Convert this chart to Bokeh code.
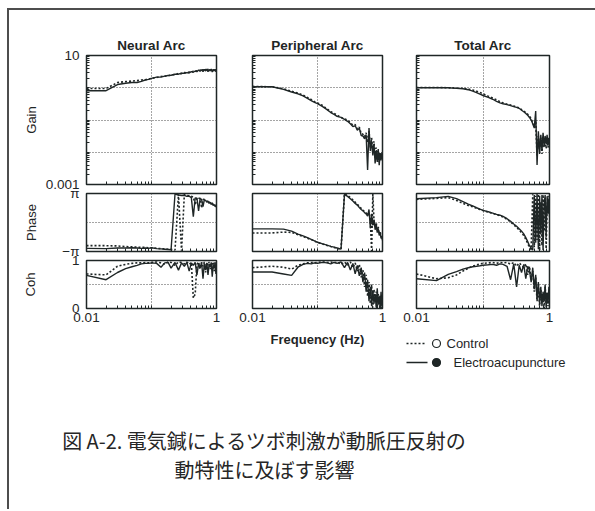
import math

from bokeh.core.properties import value
from bokeh.embed import file_html
from bokeh.layouts import column, row
from bokeh.models import FixedTicker, Range1d
from bokeh.plotting import figure
from bokeh.resources import INLINE

PI = math.pi

# Frequency grid shared by every spectrum (Hz)
FREQ = [0.01, 0.02, 0.03, 0.04, 0.05, 0.06, 0.07, 0.08, 0.09, 0.10,
        0.12, 0.14, 0.16, 0.18, 0.20, 0.23, 0.26, 0.29, 0.32, 0.35,
        0.38, 0.41, 0.44, 0.47, 0.50, 0.53, 0.56, 0.59, 0.62, 0.65,
        0.68, 0.71, 0.74, 0.77, 0.80, 0.83, 0.86, 0.89, 0.92, 0.95,
        0.98, 1.00]

ARC_TITLES = ["Neural Arc", "Peripheral Arc", "Total Arc"]

# ---- Gain -------------------------------------------------------------
NEURAL_GAIN_CTRL = [0.95, 0.95, 1.45, 1.55, 1.62, 1.66, 1.74, 1.78, 1.86, 1.95,
                    2.09, 2.24, 2.29, 2.34, 2.51, 2.57, 2.75, 2.75, 2.95, 2.88,
                    3.09, 3.02, 3.24, 3.16, 3.39, 3.24, 3.55, 3.31, 3.63, 3.39,
                    3.72, 3.24, 3.80, 3.31, 3.72, 3.24, 3.80, 3.39, 3.72, 3.31,
                    3.63, 3.55]
NEURAL_GAIN_EA = [0.81, 0.81, 1.26, 1.38, 1.45, 1.45, 1.58, 1.74, 1.82, 1.95,
                  2.14, 2.14, 2.29, 2.40, 2.45, 2.63, 2.63, 2.82, 2.82, 2.95,
                  2.88, 3.16, 3.02, 3.31, 3.16, 3.55, 3.24, 3.63, 3.16, 3.72,
                  3.31, 3.80, 3.16, 3.63, 3.31, 3.80, 3.09, 3.63, 3.31, 3.72,
                  3.16, 3.47]
PERIPH_GAIN_CTRL = [1.10, 1.07, 0.93, 0.78, 0.68, 0.59, 0.50, 0.43, 0.37, 0.34,
                    0.28, 0.22, 0.18, 0.16, 0.14, 0.12, 0.11, 0.098, 0.083, 0.069,
                    0.072, 0.052, 0.060, 0.038, 0.036, 0.030, 0.040, 0.020, 0.045, 0.014,
                    0.028, 0.010, 0.022, 0.0065, 0.014, 0.0060, 0.011, 0.0050, 0.010, 0.0063,
                    0.0089, 0.0071]
PERIPH_GAIN_EA = [1.07, 1.07, 0.89, 0.74, 0.65, 0.56, 0.47, 0.40, 0.35, 0.32,
                  0.26, 0.21, 0.17, 0.15, 0.13, 0.12, 0.105, 0.091, 0.076, 0.063,
                  0.066, 0.048, 0.056, 0.033, 0.032, 0.026, 0.035, 0.0028, 0.056, 0.011,
                  0.022, 0.0079, 0.018, 0.0045, 0.011, 0.0050, 0.0126, 0.0040, 0.0089, 0.0056,
                  0.010, 0.0063]
TOTAL_GAIN_CTRL = [1.02, 1.02, 1.00, 0.98, 0.96, 0.91, 0.85, 0.78, 0.71, 0.65,
                   0.55, 0.48, 0.42, 0.37, 0.34, 0.31, 0.29, 0.27, 0.25, 0.24,
                   0.21, 0.19, 0.17, 0.15, 0.13, 0.11, 0.085, 0.062, 0.10, 0.0079,
                   0.032, 0.013, 0.028, 0.0089, 0.032, 0.014, 0.025, 0.013, 0.028, 0.014,
                   0.022, 0.019]
TOTAL_GAIN_EA = [1.00, 1.00, 1.00, 0.955, 0.93, 0.87, 0.79, 0.71, 0.63, 0.575,
                 0.50, 0.44, 0.38, 0.34, 0.32, 0.30, 0.28, 0.26, 0.245, 0.23,
                 0.20, 0.18, 0.16, 0.14, 0.12, 0.10, 0.076, 0.056, 0.19, 0.0040,
                 0.045, 0.0089, 0.035, 0.011, 0.040, 0.016, 0.032, 0.018, 0.035, 0.016,
                 0.028, 0.022]

# ---- Phase (radians, wrapped to -pi..pi) ----------------------------------
NEURAL_PHASE_CTRL = [-2.51, -2.51, -2.54, -2.61, -2.64, -2.67, -2.70, -2.70, -2.73, -2.73,
                     -2.80, -2.83, -2.86, -2.89, -2.92, -2.98, 3.05, -3.05, 3.02, 2.92,
                     2.89, 2.83, 2.76, 1.88, 2.70, 2.64, 2.61, 1.57, 2.51, 2.48,
                     2.42, 2.26, 2.36, 2.14, 2.26, 2.01, 2.17, 1.88, 2.01, 1.82,
                     1.88, 1.73]
NEURAL_PHASE_EA = [-2.80, -2.83, -2.76, -2.76, -2.73, -2.76, -2.80, -2.76, -2.80, -2.73,
                   -2.83, -2.86, -2.89, -2.92, -2.95, 3.08, 2.98, 2.92, 2.95, 2.83,
                   2.86, 2.70, 0.63, 2.67, 2.64, 1.26, 2.58, 2.51, 1.73, 2.45,
                   2.39, 2.20, 2.32, 2.07, 2.20, 1.95, 2.14, 1.88, 1.95, 1.73,
                   1.82, 1.63]
PERIPH_PHASE_CTRL = [-1.13, -1.13, -1.04, -1.07, -1.32, -1.51, -1.70, -1.85, -2.01, -2.17,
                     -2.32, -2.48, -2.61, -2.70, -2.80, -2.92, 3.11, 2.92, 2.70, 2.45,
                     2.20, 1.98, 1.76, 1.54, 1.35, 1.16, 1.04, 0.79, 1.10, 0.31,
                     -3.08, 3.08, 0.16, -0.47, 0.00, -0.94, -0.47, -1.26, -0.94, -1.57,
                     -1.41, -1.82]
PERIPH_PHASE_EA = [-0.69, -0.69, -0.72, -0.94, -1.26, -1.45, -1.63, -1.82, -1.98, -2.14,
                   -2.32, -2.45, -2.58, -2.67, -2.76, -2.89, 3.05, 2.83, 2.58, 2.32,
                   2.07, 1.88, 1.63, 1.41, 1.26, 1.07, 0.94, 0.69, 1.41, -0.63,
                   0.94, -0.31, 0.31, -0.79, -0.16, -1.10, -0.63, -1.41, -1.10, -1.73,
                   -1.57, -1.95]
TOTAL_PHASE_CTRL = [2.51, 2.61, 2.70, 2.39, 2.07, 1.85, 1.70, 1.54, 1.41, 1.29,
                    1.13, 0.97, 0.85, 0.72, 0.60, 0.35, 0.06, -0.25, -0.53, -0.82,
                    -1.10, -1.41, -1.82, -2.26, -2.70, -2.92, 3.05, -2.67, 2.89, -1.88,
                    3.08, -3.05, 2.20, -2.51, 3.02, -0.94, 2.67, -2.83, 1.57, 2.89,
                    1.26, 2.36]
TOTAL_PHASE_EA = [2.58, 2.70, 2.83, 2.58, 2.26, 1.98, 1.79, 1.60, 1.45, 1.32,
                  1.16, 1.01, 0.88, 0.79, 0.66, 0.41, 0.13, -0.16, -0.41, -0.69,
                  -0.94, -1.23, -1.63, -2.07, -2.51, -2.76, -2.98, 2.98, -2.20, 3.08,
                  -2.89, 2.89, -1.26, 2.98, -2.98, 1.88, 2.98, -1.57, 2.83, 0.94,
                  2.51, 0.63]

# ---- Coherence --------------------------------------------------------------
NEURAL_COH_CTRL = [0.72, 0.70, 0.88, 0.92, 0.94, 0.95, 0.95, 0.96, 0.95, 0.96,
                   0.97, 0.95, 0.92, 0.97, 0.96, 0.90, 0.97, 0.96, 0.93, 0.97,
                   0.92, 0.96, 0.22, 0.30, 0.92, 0.97, 0.82, 0.96, 0.88, 0.97,
                   0.75, 0.96, 0.90, 0.97, 0.82, 0.95, 0.92, 0.97, 0.78, 0.96,
                   0.90, 0.95]
NEURAL_COH_EA = [0.69, 0.60, 0.75, 0.83, 0.87, 0.90, 0.93, 0.94, 0.94, 0.95,
                 0.94, 0.86, 0.95, 0.96, 0.84, 0.96, 0.80, 0.95, 0.88, 0.96,
                 0.78, 0.95, 0.90, 0.96, 0.70, 0.93, 0.85, 0.96, 0.62, 0.94,
                 0.80, 0.95, 0.70, 0.93, 0.86, 0.96, 0.66, 0.92, 0.84, 0.95,
                 0.72, 0.90]
PERIPH_COH_CTRL = [0.85, 0.88, 0.86, 0.82, 0.90, 0.93, 0.95, 0.96, 0.95, 0.96,
                   0.97, 0.96, 0.97, 0.95, 0.97, 0.92, 0.97, 0.90, 0.97, 0.85,
                   0.95, 0.78, 0.92, 0.65, 0.80, 0.45, 0.70, 0.25, 0.55, 0.10,
                   0.50, 0.02, 0.40, 0.15, 0.35, 0.00, 0.30, 0.10, 0.28, 0.00,
                   0.22, 0.12]
PERIPH_COH_EA = [0.76, 0.76, 0.72, 0.69, 0.86, 0.92, 0.94, 0.93, 0.95, 0.94,
                 0.96, 0.95, 0.93, 0.96, 0.94, 0.97, 0.85, 0.96, 0.80, 0.94,
                 0.72, 0.90, 0.68, 0.85, 0.55, 0.75, 0.35, 0.60, 0.15, 0.45,
                 0.05, 0.38, 0.10, 0.30, 0.02, 0.42, 0.08, 0.25, 0.00, 0.35,
                 0.05, 0.20]
TOTAL_COH_CTRL = [0.72, 0.62, 0.64, 0.70, 0.78, 0.84, 0.88, 0.91, 0.93, 0.94,
                  0.95, 0.96, 0.94, 0.96, 0.95, 0.96, 0.92, 0.96, 0.88, 0.95,
                  0.90, 0.85, 0.93, 0.70, 0.88, 0.60, 0.78, 0.35, 0.65, 0.15,
                  0.50, 0.05, 0.40, 0.20, 0.30, 0.00, 0.45, 0.10, 0.35, 0.05,
                  0.30, 0.15]
TOTAL_COH_EA = [0.62, 0.58, 0.71, 0.77, 0.82, 0.85, 0.87, 0.88, 0.89, 0.90,
                0.91, 0.92, 0.90, 0.93, 0.92, 0.88, 0.60, 0.93, 0.45, 0.90,
                0.75, 0.92, 0.62, 0.88, 0.80, 0.55, 0.85, 0.40, 0.70, 0.20,
                0.55, 0.10, 0.45, 0.05, 0.35, 0.15, 0.50, 0.02, 0.30, 0.10,
                0.45, 0.25]

GAIN = [(NEURAL_GAIN_CTRL, NEURAL_GAIN_EA),
        (PERIPH_GAIN_CTRL, PERIPH_GAIN_EA),
        (TOTAL_GAIN_CTRL, TOTAL_GAIN_EA)]
PHASE = [(NEURAL_PHASE_CTRL, NEURAL_PHASE_EA),
         (PERIPH_PHASE_CTRL, PERIPH_PHASE_EA),
         (TOTAL_PHASE_CTRL, TOTAL_PHASE_EA)]
COH = [(NEURAL_COH_CTRL, NEURAL_COH_EA),
       (PERIPH_COH_CTRL, PERIPH_COH_EA),
       (TOTAL_COH_CTRL, TOTAL_COH_EA)]

LEGEND_LABELS = ["Control", "Electroacupuncture"]
X_LABEL = "Frequency (Hz)"
CAPTION = ["図 A-2. 電気鍼によるツボ刺激が動脈圧反射の", "動特性に及ぼす影響"]

# ---- styling ------------------------------------------------------------------
INK = "#1f2626"
GRID_INK = "#4a4a4a"
SANS = "Liberation Sans"
CJK = "Noto Sans CJK JP"

FRAME_W = [130, 130, 133]
PAD_L = [77, 26, 24]
PAD_R = [10, 10, 46]

X_MINOR = [k * 0.01 for k in range(2, 10)] + [0.1] + [k * 0.1 for k in range(2, 10)]
GAIN_MINOR = [k * 10.0 ** e for e in range(-3, 1) for k in range(1, 10)] + [10.0]

# Each row's canvas is taller than its share and overlaps the row above
# (negative top margin, transparent borders), so end labels sitting on the
# panel edges are not cut.
ROW_SPEC = {
    #        top, frame, bottom, overlap with row above
    "gain": (45, 129, 12, 0),
    "phase": (9, 58, 12, 12),
    "coh": (9, 48, 42, 12),
}

Y_SPEC = {
    "gain": dict(kind="log", lo=0.001, hi=10, ticks=[0.001, 10],
                 names={0.001: "0.001", 10: "10"}, minor=GAIN_MINOR,
                 grid=[0.01, 0.1, 1], label="Gain", gap=4),
    "phase": dict(kind="linear", lo=-PI, hi=PI, ticks=[-PI, PI],
                  names={-PI: "\u2212\u03c0", PI: "\u03c0"}, minor=[],
                  grid=[0], label="Phase", gap=20),
    "coh": dict(kind="linear", lo=0, hi=1, ticks=[0, 1],
                names={0: "0", 1: "1"}, minor=[],
                grid=[0.5], label="Coh", gap=31),
}


def make_panel(col, kind, ctrl, ea):
    top, frame_h, bottom, _ = ROW_SPEC[kind]
    ys = Y_SPEC[kind]

    p = figure(width=PAD_L[col] + FRAME_W[col] + PAD_R[col],
               height=top + frame_h + bottom,
               x_axis_type="log", y_axis_type=ys["kind"],
               x_range=Range1d(0.01, 1), y_range=Range1d(ys["lo"], ys["hi"]),
               title=ARC_TITLES[col] if kind == "gain" else None,
               min_border_left=PAD_L[col], min_border_right=PAD_R[col],
               min_border_top=top, min_border_bottom=bottom,
               output_backend="svg", toolbar_location=None)
    p.background_fill_color = "white"
    p.border_fill_color = None
    p.outline_line_color = INK
    p.outline_line_width = 1.5
    p.outline_line_alpha = 1.0

    if kind == "gain":
        p.title.align = "center"
        p.title.text_font = SANS
        p.title.text_font_style = "bold"
        p.title.text_font_size = "13.5px"
        p.title.text_color = INK
        p.title.standoff = 6

    x_major = [0.01, 1] if kind == "coh" else []
    p.xaxis.ticker = FixedTicker(ticks=x_major, minor_ticks=X_MINOR)
    y_major = ys["ticks"] if col == 0 else []
    p.yaxis.ticker = FixedTicker(ticks=y_major, minor_ticks=ys["minor"])
    p.yaxis.major_label_overrides = ys["names"]
    p.xaxis.major_label_overrides = {0.01: "0.01", 1: "1"}

    p.xgrid.ticker = FixedTicker(ticks=[0.1])
    p.ygrid.ticker = FixedTicker(ticks=ys["grid"])
    p.grid.grid_line_color = GRID_INK
    p.grid.grid_line_dash = "1 2"
    p.grid.grid_line_width = 1

    for ax in p.axis:
        ax.axis_line_color = None
        ax.major_tick_in = 0
        ax.major_tick_out = 0
        ax.minor_tick_in = 3
        ax.minor_tick_out = 0
        ax.minor_tick_line_color = INK
        ax.major_label_text_font = SANS
        ax.major_label_text_font_size = "13.5px"
        ax.major_label_text_color = INK

    p.xaxis.major_label_standoff = 4 if kind == "coh" else 0
    p.yaxis.major_label_standoff = 7 if col == 0 else 0
    if col == 0:
        p.yaxis.axis_label = ys["label"]
        p.yaxis.axis_label_text_font = SANS
        p.yaxis.axis_label_text_font_style = "normal"
        p.yaxis.axis_label_text_font_size = "13px"
        p.yaxis.axis_label_text_color = INK
        p.yaxis.axis_label_standoff = ys["gap"]
    if kind == "coh" and col == 1:
        p.xaxis.axis_label = X_LABEL
        p.xaxis.axis_label_text_font = SANS
        p.xaxis.axis_label_text_font_style = "bold"
        p.xaxis.axis_label_text_font_size = "13px"
        p.xaxis.axis_label_text_color = INK
        p.xaxis.axis_label_standoff = 7

    p.line(FREQ, ctrl, line_color=INK, line_width=1.6, line_dash="2 2")
    p.line(FREQ, ea, line_color=INK, line_width=1.4)
    return p


def panel_row(kind, pairs):
    overlap = ROW_SPEC[kind][3]
    return row([make_panel(c, kind, *pairs[c]) for c in range(3)],
               margin=(-overlap, 0, 0, 0))


gain_row = panel_row("gain", GAIN)
phase_row = panel_row("phase", PHASE)
coh_row = panel_row("coh", COH)

# Legend and caption below the panels
FOOT_W, FOOT_H = 586, 181
FOOT_OVERLAP = 22
foot = figure(width=FOOT_W, height=FOOT_H,
              x_range=Range1d(0, FOOT_W), y_range=Range1d(FOOT_H, 0),
              x_axis_location=None, y_axis_location=None,
              min_border=0, output_backend="svg", toolbar_location=None,
              margin=(-FOOT_OVERLAP, 0, 0, 0))
foot.grid.visible = False
foot.outline_line_color = None
foot.background_fill_color = None
foot.border_fill_color = None

LEG_Y = [15, 34]
foot.line(x=[397, 416], y=[LEG_Y[0]] * 2, line_color=INK, line_width=1.5, line_dash="2 2")
foot.line(x=[397, 418], y=[LEG_Y[1]] * 2, line_color=INK, line_width=1.5)
foot.scatter(x=[427], y=[LEG_Y[0]], size=8, marker="circle", fill_color="white",
             line_color=INK, line_width=1.2)
foot.scatter(x=[427], y=[LEG_Y[1]], size=8, marker="circle", fill_color=INK,
             line_color=INK, line_width=1.2)
foot.text(x=[437, 444], y=LEG_Y, text=LEGEND_LABELS, text_font=value(SANS),
          text_font_size="13px", text_color=INK,
          text_align="left", text_baseline="middle")

foot.text(x=[255, 255], y=[112, 141], text=CAPTION, text_font=value(CJK),
          text_font_size="20px", text_color="#262626",
          text_align="center", text_baseline="middle")

root = column([gain_row, phase_row, coh_row, foot],
              margin=(8, 0, 0, 7),
              styles={"border-left": "2px solid #4d4d4d",
                      "border-top": "2px solid #4d4d4d"})

open("out.html", "w").write(file_html(root, INLINE))
